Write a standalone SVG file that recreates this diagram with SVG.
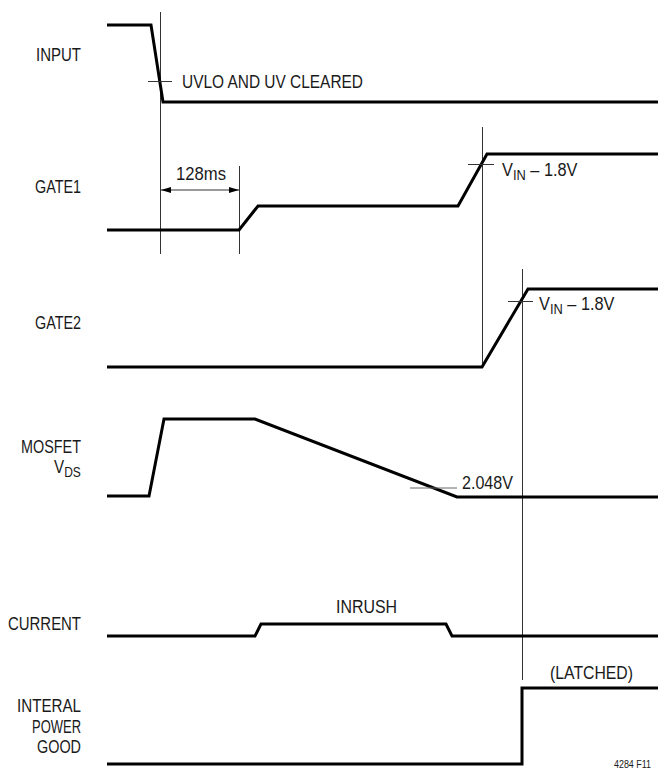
<svg xmlns="http://www.w3.org/2000/svg" width="658" height="776" viewBox="0 0 658 776">
<style>
.sig{fill:none;stroke:#000;stroke-width:3;stroke-linejoin:miter}
.mk{fill:none;stroke:#333;stroke-width:1}
.tk{fill:none;stroke:#666;stroke-width:1}
text{font-family:"Liberation Sans",Arial,sans-serif;font-size:19px;fill:#1a1a1a}
.lab{text-anchor:end}
.small{font-size:10px}
</style>
<defs>
<marker id="ah" viewBox="0 0 10 6" refX="10" refY="3" markerWidth="10" markerHeight="6" markerUnits="userSpaceOnUse" orient="auto-start-reverse">
<path d="M0,0 L10,3 L0,6 Z" fill="#000"/>
</marker>
</defs>
<rect width="658" height="776" fill="#fff"/>

<g id="labels">
<text class="lab" x="81" y="61" textLength="45" lengthAdjust="spacingAndGlyphs">INPUT</text>
<text class="lab" x="81" y="193" textLength="46" lengthAdjust="spacingAndGlyphs">GATE1</text>
<text class="lab" x="81" y="329" textLength="46" lengthAdjust="spacingAndGlyphs">GATE2</text>
<text class="lab" x="81" y="453" textLength="60" lengthAdjust="spacingAndGlyphs">MOSFET</text>
<text transform="translate(54,473) scale(0.8,1)">V<tspan font-size="15" dy="4">DS</tspan></text>
<text class="lab" x="81" y="630" textLength="73" lengthAdjust="spacingAndGlyphs">CURRENT</text>
<text class="lab" x="81" y="712" textLength="64" lengthAdjust="spacingAndGlyphs">INTERAL</text>
<text class="lab" x="81" y="733" textLength="49" lengthAdjust="spacingAndGlyphs">POWER</text>
<text class="lab" x="81" y="753" textLength="44" lengthAdjust="spacingAndGlyphs">GOOD</text>
</g>

<g id="markers">
<line class="mk" x1="160.5" y1="12" x2="160.5" y2="254"/>
<line class="mk" x1="239.5" y1="166" x2="239.5" y2="254"/>
<line class="mk" x1="482.5" y1="127" x2="482.5" y2="368"/>
<line class="mk" x1="522.5" y1="269" x2="522.5" y2="680"/>
</g>

<g id="input">
<polyline class="sig" points="107,25 151,25 163,102 658,102"/>
<line class="mk" x1="148" y1="81.5" x2="172" y2="81.5"/>
<text x="182" y="88" textLength="181" lengthAdjust="spacingAndGlyphs">UVLO AND UV CLEARED</text>
</g>

<g id="gate1">
<polyline class="sig" points="107,230 239,230 258,206 458,206 487,154 658,154"/>
<line class="mk" x1="468" y1="164.5" x2="494" y2="164.5"/>
<text transform="translate(502,176) scale(0.86,1)">V<tspan font-size="15" dy="4">IN</tspan><tspan dy="-4"> – 1.8V</tspan></text>
</g>

<g id="delay">
<line class="mk" x1="161" y1="190" x2="239" y2="190" stroke="#000" marker-start="url(#ah)" marker-end="url(#ah)"/>
<text x="176" y="180" textLength="50" lengthAdjust="spacingAndGlyphs">128ms</text>
</g>

<g id="gate2">
<polyline class="sig" points="107,367 482,367 528,289 658,289"/>
<line class="mk" x1="508" y1="301.5" x2="533" y2="301.5"/>
<text transform="translate(539,310) scale(0.86,1)">V<tspan font-size="15" dy="4">IN</tspan><tspan dy="-4"> – 1.8V</tspan></text>
</g>

<g id="mosfet">
<polyline class="sig" points="107,496 149,496 164,419 255,419 457,497 658,497"/>
<line class="tk" x1="410" y1="488" x2="457" y2="488"/>
<text x="462" y="489" textLength="51" lengthAdjust="spacingAndGlyphs">2.048V</text>
</g>

<g id="current">
<polyline class="sig" points="107,636 255,636 261,624 446,624 452,636 658,636"/>
<text x="336" y="613" textLength="61" lengthAdjust="spacingAndGlyphs">INRUSH</text>
</g>

<g id="powergood">
<polyline class="sig" points="107,764 522,764 522,688 658,688"/>
<text x="550" y="679" textLength="83" lengthAdjust="spacingAndGlyphs">(LATCHED)</text>
</g>

<text class="small" x="614" y="768" textLength="37" lengthAdjust="spacingAndGlyphs">4284 F11</text>
</svg>
